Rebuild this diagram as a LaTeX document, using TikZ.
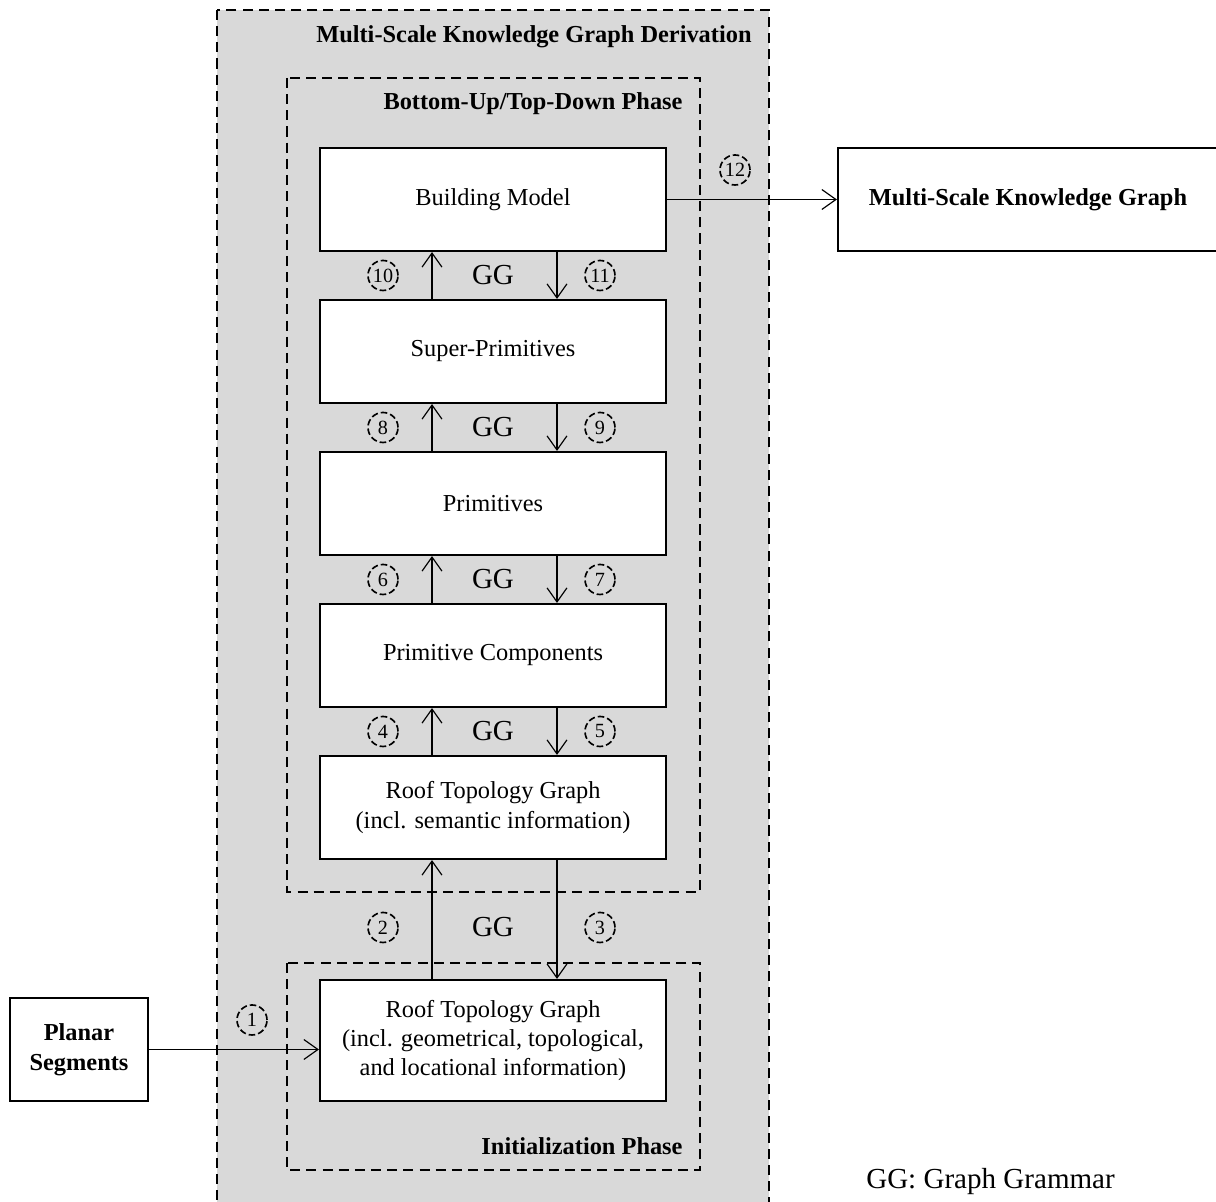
\documentclass[tikz,border=0pt]{standalone}
\usepackage{fontspec}
\setmainfont{Liberation Serif}
\usetikzlibrary{arrows.meta,positioning,calc}
\definecolor{panelgray}{RGB}{217,217,217}

\begin{document}
\begin{tikzpicture}[
      x=0.015cm, y=-0.015cm,
      every node/.style={font=\fontsize{10.4}{12.5}\selectfont},
      arr/.style={-{Straight Barb[length=6pt,width=8.5pt]},line width=0.5pt},
      stage/.style={draw,line width=0.9pt,fill=white,minimum width=5.19cm,minimum height=1.545cm,align=center,inner sep=2pt},
      frame/.style={draw,line width=1.1pt,dash pattern=on 4.3pt off 2.6pt,fill=panelgray},
      phase/.style={anchor=base east,inner sep=0pt,font=\fontsize{10.4}{12.5}\selectfont\bfseries},
      gg/.style={font=\fontsize{12.4}{14}\selectfont},
      step no/.style={circle,draw,line width=0.7pt,dash pattern=on 2.8pt off 1.3pt,minimum size=0.45cm,inner sep=0pt,font=\fontsize{8.6}{9}\selectfont}
    ]
      \useasboundingbox (0,0) rectangle (1216,1202);
      % containers
      \draw[frame] (217,10) rectangle (769,1230);
      \draw[frame] (287,78) rectangle (700,892);
      \draw[frame] (287,963) rectangle (700,1170);
      \node[phase] at (752,43) {Multi-Scale Knowledge Graph Derivation};
      \node[phase] at (683,110) {Bottom-Up/Top-Down Phase};
      \node[phase] at (683,1155) {Initialization Phase};

      % stages
      \node[stage] (bm) at (493,199.5) {Building Model};
      \node[stage] (super) at (493,351.5) {Super-Primitives};
      \node[stage] (prim) at (493,503.5) {Primitives};
      \node[stage] (comp) at (493,655.5) {Primitive Components};
      \node[stage] (rtgsem) at (493,807.5) {Roof Topology Graph\\(incl. semantic information)};
      \node[stage,minimum height=1.815cm] (rtgbase) at (493,1040.5) {Roof Topology Graph\\(incl. geometrical, topological,\\and locational information)};
      \node[stage,minimum width=2.07cm,font=\fontsize{10.4}{12.8}\selectfont\bfseries] (planar) at (79,1049.5) {Planar\\Segments};
      \node[stage,minimum width=5.7cm,font=\fontsize{10.4}{12.5}\selectfont\bfseries] (mskg) at (1028,199.5) {Multi-Scale Knowledge Graph};

      \coordinate (upx) at (432,0);
      \coordinate (downx) at (557,0);
      \coordinate (lblL) at (383,0);
      \coordinate (lblR) at (600,0);
      \coordinate (m2) at (493,927.5);

      % grammar steps between stages
      \draw[arr] (rtgbase.north -| upx) -- (rtgsem.south -| upx);
      \draw[arr] (rtgsem.south -| downx) -- (rtgbase.north -| downx);
      \node[gg] at (m2) {GG};
      \node[step no] at (m2 -| lblL) {2};
      \node[step no] at (m2 -| lblR) {3};
      \foreach \lo/\hi/\l/\r in {rtgsem/comp/4/5, comp/prim/6/7, prim/super/8/9, super/bm/10/11}{
        \draw[arr] (\lo.north -| upx) -- (\hi.south -| upx);
        \draw[arr] (\hi.south -| downx) -- (\lo.north -| downx);
        \path (\lo.north) -- (\hi.south) coordinate[midway] (m\l);
        \node[gg] at (m\l) {GG};
        \node[step no] at (m\l -| lblL) {\l};
        \node[step no] at (m\l -| lblR) {\r};
      }

      \draw[arr] (planar.east) -- (planar.east -| rtgbase.west);
      \node[step no] at (252,1020) {1};
      \draw[arr] (bm.east) -- (mskg.west);
      \node[step no] at (735,170) {12};

      \node[gg,anchor=west] (legend) at (858,1182) {GG: Graph Grammar};
    \end{tikzpicture}
\end{document}
